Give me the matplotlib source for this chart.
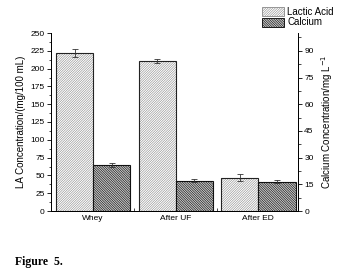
import numpy as np
import matplotlib
matplotlib.use("Agg")
import matplotlib.pyplot as plt
from matplotlib.ticker import MultipleLocator, FixedLocator
from matplotlib.patches import Patch

plt.rcParams['font.family'] = ['Liberation Sans', 'DejaVu Sans']
plt.rcParams['hatch.linewidth'] = 0.4

# data
groups = ["Whey", "After UF", "After ED"]
la_values = [222, 211, 47]          # mg/100 mL, left axis
la_errors = [6, 3, 4.5]
ca_values = [25.8, 17.0, 16.5]      # mg/L, right axis
ca_errors = [1.0, 0.9, 0.9]

x = np.arange(1, len(groups) + 1)
w = 0.45
la_hatch = '/' * 14
ca_hatch = '\\' * 14
la_face, la_hc = 'white', '#888888'
ca_face, ca_hc = '#c8c8c8', '#000000'

fig = plt.figure(figsize=(3.45, 2.75), dpi=100)
ax = fig.add_axes([51 / 345, 1 - 211 / 275, 247 / 345, 178 / 275])
ax2 = ax.twinx()

ekw = dict(elinewidth=0.6, capthick=0.6, ecolor='#333333')
# hatched fill, then the black outline on top
ax.bar(x - w / 2, la_values, w, color=la_face, edgecolor=la_hc, linewidth=0, hatch=la_hatch)
ax.bar(x - w / 2, la_values, w, fill=False, edgecolor='#222222', linewidth=0.8,
       yerr=la_errors, capsize=2, error_kw=ekw)
ax2.bar(x + w / 2, ca_values, w, color=ca_face, edgecolor=ca_hc, linewidth=0, hatch=ca_hatch)
ax2.bar(x + w / 2, ca_values, w, fill=False, edgecolor='#111111', linewidth=0.8,
        yerr=ca_errors, capsize=2, error_kw=ekw)

ax.set_xlim(0.49, 3.48)
ax.set_ylim(0, 250)
ax2.set_ylim(0, 100)
ax.set_xticks(x)
ax.set_xticklabels(groups)
ax.xaxis.set_minor_locator(FixedLocator([1.5, 2.5]))
ax.yaxis.set_major_locator(MultipleLocator(25))
ax.yaxis.set_minor_locator(MultipleLocator(12.5))
ax2.yaxis.set_major_locator(FixedLocator([0, 15, 30, 45, 60, 75, 90]))
ax2.yaxis.set_minor_locator(MultipleLocator(7.5))

for a in (ax, ax2):
    a.spines['top'].set_visible(False)
    a.tick_params(labelsize=6, length=3, width=0.6, pad=1.5)
    a.tick_params(which='minor', length=1.8, width=0.5)
    for s in a.spines.values():
        s.set_linewidth(0.7)
ax.tick_params(axis='x', length=0, pad=3)
ax.tick_params(axis='x', which='minor', length=2, direction='in')
ax2.spines['right'].set_bounds(0, 97)

ax.set_ylabel("LA Concentration/(mg/100 mL)", fontsize=7, labelpad=3)
ax2.set_ylabel("Calcium Concentration/mg L$^{-1}$", fontsize=7, labelpad=4)

handles = [
    Patch(facecolor=la_face, edgecolor=la_hc, hatch=la_hatch, linewidth=0.6, label='Lactic Acid'),
    Patch(facecolor=ca_face, edgecolor=ca_hc, hatch=ca_hatch, linewidth=0.6, label='Calcium'),
]
fig.legend(handles=handles, loc='upper left', bbox_to_anchor=(262 / 345, 1 - 7 / 275),
           fontsize=7, frameon=False, handlelength=2.3, handleheight=1.1,
           handletextpad=0.3, labelspacing=0.05, borderpad=0, borderaxespad=0)

fig.text(15 / 345, 1 - 262 / 275, "Figure  5.", fontsize=8.5, fontweight='bold',
         family='Liberation Serif', va='center')

fig.savefig("out.png", dpi=100)
